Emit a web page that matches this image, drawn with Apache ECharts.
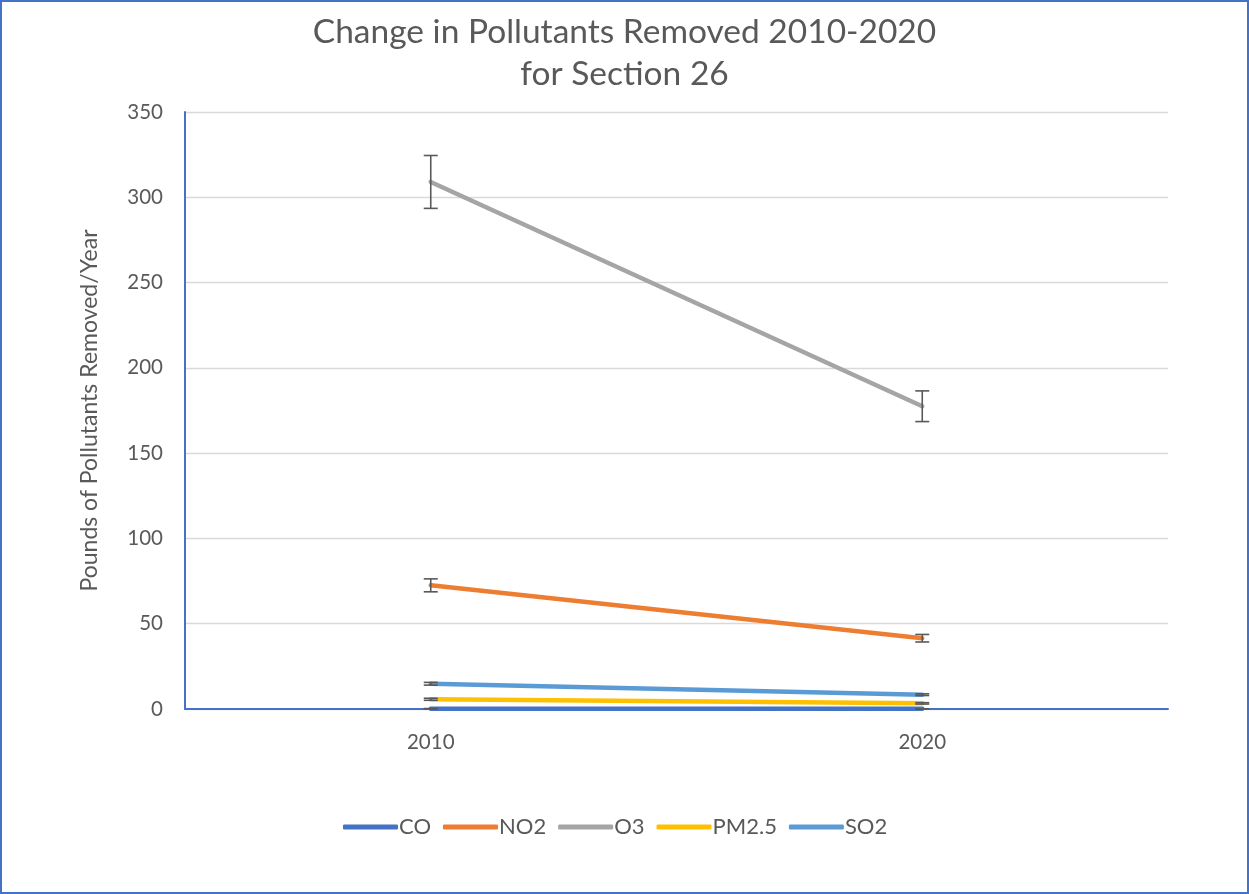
<!DOCTYPE html>
<html>
<head>
<meta charset="utf-8">
<script src="https://cdn.jsdelivr.net/npm/echarts@6/dist/echarts.min.js"></script>
<style>
html,body{margin:0;padding:0;background:#fff;}
#wrap{position:absolute;left:0;top:0;width:1245px;height:890px;border:2px solid #4472C4;}
#c{width:1245px;height:890px;}
</style>
</head>
<body>
<div id="wrap"><div id="c"></div></div>
<script>
const categories = ['2010', '2020'];
const seriesNames = ['CO', 'NO2', 'O3', 'PM2.5', 'SO2'];
const CO = [0.2, 0.1];
const NO2 = [72.5, 41.5];
const O3 = [309, 177.5];
const PM25 = [5.7, 3.3];
const SO2 = [14.8, 8.4];
const CO_err = [0.05, 0.03];
const NO2_err = [3.8, 2.2];
const O3_err = [15.5, 9];
const PM25_err = [0.6, 0.4];
const SO2_err = [0.8, 0.5];
const yTicks = [0, 50, 100, 150, 200, 250, 300, 350];

const colors = ['#4472C4', '#ED7D31', '#A5A5A5', '#FFC000', '#5B9BD5'];
const values = [CO, NO2, O3, PM25, SO2];
const errs = [CO_err, NO2_err, O3_err, PM25_err, SO2_err];

const errData = [];
values.forEach((v, si) => {
  v.forEach((val, ci) => {
    errData.push([ci, val - errs[si][ci], val + errs[si][ci]]);
  });
});

const chart = echarts.init(document.getElementById('c'));
const font = 'Lato, "Open Sans", sans-serif';
const series = seriesNames.map((n, i) => ({
  name: n,
  type: 'line',
  data: values[i],
  symbol: 'none',
  lineStyle: { width: 4.5, color: colors[i], cap: 'round' },
  itemStyle: { color: colors[i] },
  z: 2 + i * 0.01
}));
series.push({
  type: 'custom',
  name: 'err',
  data: errData,
  z: 5,
  renderItem: function (params, api) {
    const x = api.value(0);
    const lo = api.coord([x, api.value(1)]);
    const hi = api.coord([x, api.value(2)]);
    const hw = 7;
    const st = { stroke: '#595959', lineWidth: 1.6, fill: null };
    return {
      type: 'group',
      children: [
        { type: 'line', shape: { x1: hi[0], y1: hi[1], x2: lo[0], y2: lo[1] }, style: st },
        { type: 'line', shape: { x1: hi[0] - hw, y1: hi[1], x2: hi[0] + hw, y2: hi[1] }, style: st },
        { type: 'line', shape: { x1: lo[0] - hw, y1: lo[1], x2: lo[0] + hw, y2: lo[1] }, style: st }
      ]
    };
  },
  tooltip: { show: false }
});

chart.setOption({
  animation: false,
  textStyle: { fontFamily: font },
  title: {
    text: 'Change in Pollutants Removed 2010-2020\nfor Section 26',
    left: 'center',
    top: 4,
    textStyle: { fontFamily: font, fontSize: 33.5, fontWeight: 'normal', color: '#595959', lineHeight: 42 }
  },
  legend: {
    data: seriesNames,
    bottom: 49,
    left: 336,
    itemWidth: 55,
    itemHeight: 5,
    itemGap: 12,
    icon: 'roundRect',
    textStyle: { fontFamily: font, fontSize: 22, color: '#595959', padding: [0, 0, 0, -4] }
  },
  grid: { left: 183, right: 79, top: 110, bottom: 183 },
  xAxis: {
    type: 'category',
    data: categories,
    boundaryGap: true,
    axisLine: { show: true, lineStyle: { color: '#4472C4', width: 2 } },
    axisTick: { show: false },
    axisLabel: { fontSize: 20.5, color: '#595959', margin: 23, fontFamily: font },
    z: 3
  },
  yAxis: {
    type: 'value',
    min: yTicks[0],
    max: yTicks[yTicks.length - 1],
    interval: 50,
    name: 'Pounds of Pollutants Removed/Year',
    nameLocation: 'middle',
    nameGap: 84,
    nameTextStyle: { fontSize: 23, color: '#595959', fontFamily: font, padding: [0, 0, 0, 0] },
    axisLine: { show: true, lineStyle: { color: '#4472C4', width: 2 } },
    axisTick: { show: false },
    axisLabel: { fontSize: 20.5, color: '#595959', margin: 22, fontFamily: font },
    splitLine: { lineStyle: { color: '#D9D9D9', width: 1.3 } }
  },
  series: series
});
</script>
</body>
</html>
